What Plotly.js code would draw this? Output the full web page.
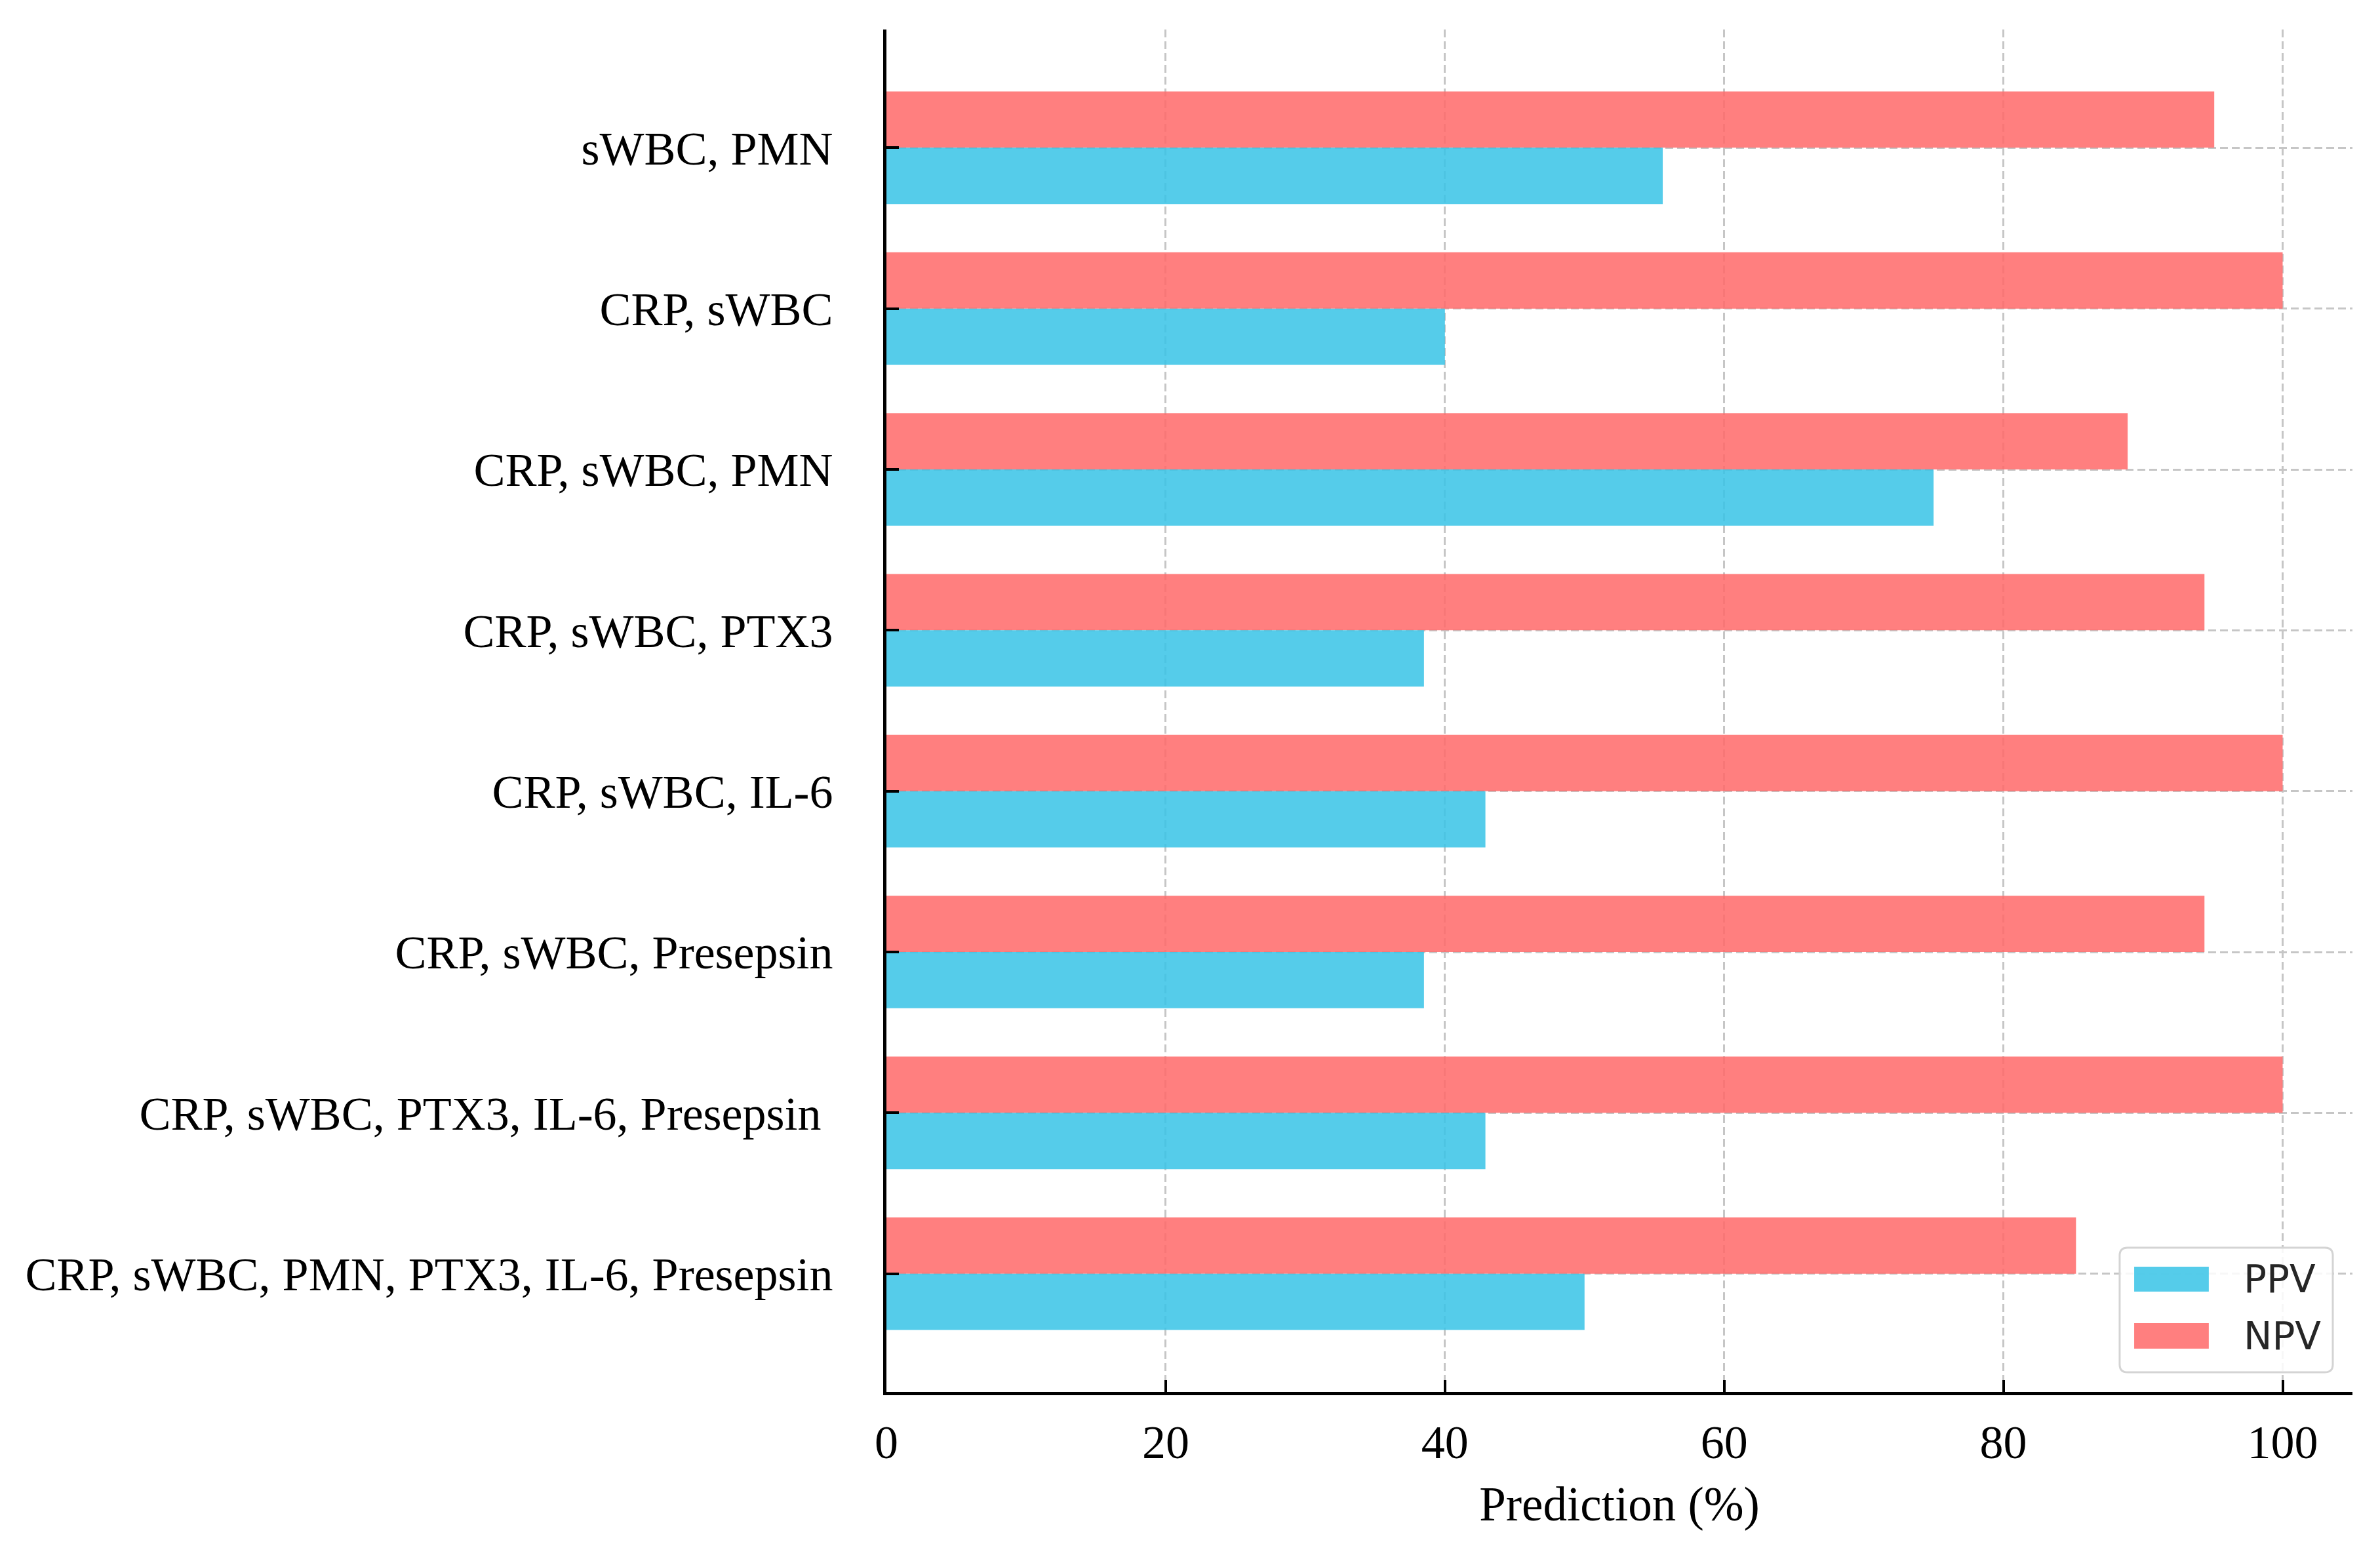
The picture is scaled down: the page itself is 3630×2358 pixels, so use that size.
<!DOCTYPE html>
<html>
<head>
<meta charset="utf-8">
<script src="https://cdn.plot.ly/plotly-3.0.1.min.js"></script>
<style>html,body{margin:0;padding:0;background:#fff;}#chart{width:3630px;height:2358px;}</style>
</head>
<body>
<div id="chart"></div>
<script>
// Data
const categories = [
  "sWBC, PMN",
  "CRP, sWBC",
  "CRP, sWBC, PMN",
  "CRP, sWBC, PTX3",
  "CRP, sWBC, IL-6",
  "CRP, sWBC, Presepsin",
  "CRP, sWBC, PTX3, IL-6, Presepsin\u00a0",
  "CRP, sWBC, PMN, PTX3, IL-6, Presepsin"
];
const ppv = [55.6, 40.0, 75.0, 38.5, 42.9, 38.5, 42.9, 50.0];
const npv = [95.1, 100.0, 88.9, 94.4, 100.0, 94.4, 100.0, 85.2];
const seriesNames = ["PPV", "NPV"];
const xTicks = [0, 20, 40, 60, 80, 100];

const blue = "rgba(57,196,231,0.86)";
const red = "rgba(255,106,106,0.86)";
const serif = "Liberation Serif, Times New Roman, serif";

const traces = [
  {type: "bar", orientation: "h", name: seriesNames[1], y: categories, x: npv,
   marker: {color: red, line: {width: 0}}, showlegend: false, hoverinfo: "x+y"},
  {type: "bar", orientation: "h", name: seriesNames[0], y: categories, x: ppv,
   marker: {color: blue, line: {width: 0}}, showlegend: false, hoverinfo: "x+y"}
];

// Custom legend (matplotlib-style box) in paper coordinates
const L = {x0: 0.8412, x1: 0.9866, y0: 0.0144, y1: 0.1059, rx: 0.0054, ry: 0.0058};
const boxPath = `M ${L.x0 + L.rx},${L.y0} L ${L.x1 - L.rx},${L.y0} Q ${L.x1},${L.y0} ${L.x1},${L.y0 + L.ry} ` +
  `L ${L.x1},${L.y1 - L.ry} Q ${L.x1},${L.y1} ${L.x1 - L.rx},${L.y1} L ${L.x0 + L.rx},${L.y1} ` +
  `Q ${L.x0},${L.y1} ${L.x0},${L.y1 - L.ry} L ${L.x0},${L.y0 + L.ry} Q ${L.x0},${L.y0} ${L.x0 + L.rx},${L.y0} Z`;

const shapes = [
  {type: "path", xref: "paper", yref: "paper", path: boxPath,
   fillcolor: "rgba(255,255,255,0.85)", line: {color: "#d4d4d4", width: 3}, layer: "above"},
  {type: "rect", xref: "paper", yref: "paper", x0: 0.8511, x1: 0.9020, y0: 0.0736, y1: 0.0919,
   fillcolor: blue, line: {width: 0}, layer: "above"},
  {type: "rect", xref: "paper", yref: "paper", x0: 0.8511, x1: 0.9020, y0: 0.0318, y1: 0.0505,
   fillcolor: red, line: {width: 0}, layer: "above"}
];
const annotations = [
  {xref: "paper", yref: "paper", x: 0.9249, y: 0.0828, xanchor: "left", yanchor: "middle",
   text: seriesNames[0], showarrow: false, font: {family: "DejaVu Sans", size: 58, color: "#262626"}},
  {xref: "paper", yref: "paper", x: 0.9249, y: 0.0409, xanchor: "left", yanchor: "middle",
   text: seriesNames[1], showarrow: false, font: {family: "DejaVu Sans", size: 58, color: "#262626"}}
];

const layout = {
  width: 3630, height: 2358,
  margin: {l: 1352, r: 42, t: 45, b: 235, pad: 0},
  paper_bgcolor: "#ffffff", plot_bgcolor: "#ffffff",
  barmode: "group", bargap: 0.3, bargroupgap: 0,
  font: {family: serif, size: 72, color: "#000"},
  showlegend: false,
  xaxis: {
    range: [0, 105], tickvals: xTicks, ticktext: xTicks.map(String),
    ticks: "inside", ticklen: 18, tickwidth: 4, tickcolor: "#000",
    showline: true, linecolor: "#000", linewidth: 5, mirror: false,
    showgrid: true, gridcolor: "#c6c6c6", gridwidth: 3, griddash: "12px,6px",
    zeroline: false, ticklabelstandoff: 10,
    tickfont: {family: serif, size: 72, color: "#000"},
    title: {text: "Prediction (%)", font: {family: serif, size: 73, color: "#000"}, standoff: 30},
    automargin: false, fixedrange: true
  },
  yaxis: {
    type: "category", categoryorder: "array", categoryarray: categories,
    range: [7.735, -0.735],
    ticks: "inside", ticklen: 19, tickwidth: 4, tickcolor: "#000",
    showline: true, linecolor: "#000", linewidth: 5,
    showgrid: true, gridcolor: "#c6c6c6", gridwidth: 3, griddash: "12px,6px",
    zeroline: false, ticklabelstandoff: 62,
    tickfont: {family: serif, size: 72, color: "#000"},
    automargin: false, fixedrange: true
  },
  shapes: shapes,
  annotations: annotations
};

Plotly.newPlot("chart", traces, layout, {displayModeBar: false, staticPlot: true});
</script>
</body>
</html>
